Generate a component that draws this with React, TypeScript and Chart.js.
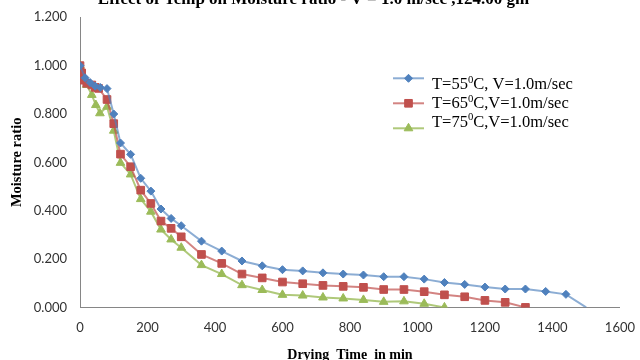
import React, { useEffect, useRef } from 'react';
import { Chart, registerables } from 'chart.js';
import { drawPoint } from 'chart.js/helpers';

Chart.register(...registerables);

// ---------- data ----------
const chartTitle = 'Effect of Temp on Moisture ratio - V = 1.0 m/sec ,124.00 gm';
const xAxisTitle = 'Drying  Time  in min';
const yAxisTitle = 'Moisture ratio';
const seriesLabels = ['T=55⁰C, V=1.0m/sec', 'T=65⁰C,V=1.0m/sec', 'T=75⁰C,V=1.0m/sec'];

const times55 = [0, 15, 30, 45, 60, 80, 100, 120, 150, 180, 210, 240, 270, 300, 360, 420, 480, 540, 600, 660, 720, 780, 840, 900, 960, 1020, 1080, 1140, 1200, 1260, 1320, 1380, 1440, 1500];
const mr55 = [1.0, 0.95, 0.93, 0.915, 0.91, 0.905, 0.80, 0.68, 0.633, 0.534, 0.481, 0.407, 0.368, 0.338, 0.274, 0.233, 0.192, 0.172, 0.156, 0.151, 0.143, 0.138, 0.134, 0.127, 0.127, 0.117, 0.103, 0.095, 0.084, 0.076, 0.076, 0.066, 0.054, 0];

const times65 = [0, 5, 10, 20, 35, 45, 55, 80, 100, 120, 150, 180, 210, 240, 270, 300, 360, 420, 480, 540, 600, 660, 720, 780, 840, 900, 960, 1020, 1080, 1140, 1200, 1260, 1320];
const mr65 = [1.0, 0.97, 0.94, 0.927, 0.92, 0.91, 0.906, 0.86, 0.76, 0.634, 0.582, 0.485, 0.43, 0.357, 0.327, 0.292, 0.219, 0.182, 0.138, 0.122, 0.105, 0.098, 0.091, 0.087, 0.083, 0.074, 0.074, 0.065, 0.052, 0.044, 0.029, 0.021, 0];

const times75 = [0, 5, 10, 20, 35, 47, 59, 80, 100, 120, 150, 180, 210, 240, 270, 300, 360, 420, 480, 540, 600, 660, 720, 780, 840, 900, 960, 1020, 1080];
const mr75 = [1.0, 0.97, 0.945, 0.92, 0.879, 0.837, 0.803, 0.83, 0.731, 0.598, 0.55, 0.448, 0.396, 0.322, 0.281, 0.247, 0.175, 0.138, 0.092, 0.072, 0.052, 0.049, 0.041, 0.037, 0.031, 0.023, 0.025, 0.015, 0];

const xTicks = { min: 0, max: 1600, step: 200 };
const yTicks = { min: 0, max: 1.2, step: 0.2 };

// ---------- styles ----------
const SHIFT = 12;
const colors = ['#4F81BD', '#C0504D', '#9BBB59'];
const lineColors = ['rgba(79,129,189,0.65)', 'rgba(192,80,77,0.7)', 'rgba(155,187,89,0.8)'];
const pointStyles = ['rectRot', 'rect', 'triangle'];
const pointRadii = [4, 5.4, 5];

const pair = (xs: number[], ys: number[]) => xs.map((x, i) => ({ x, y: ys[i] }));

const legendPlugin = {
  id: 'insideLegend',
  afterDraw(chart: any) {
    const ctx = chart.ctx as CanvasRenderingContext2D;
    const lineRows = [78.3, 103.3, 128.3];
    const textRows = [85, 103.8, 122.3];
    const x1 = 393, x2 = 424, tx = 432;
    const size = 16.5;
    ctx.save();
    chart.data.datasets.forEach((ds: any, i: number) => {
      const ly = lineRows[i] + SHIFT;
      ctx.strokeStyle = ds.borderColor;
      ctx.lineWidth = 2;
      ctx.beginPath();
      ctx.moveTo(x1, ly);
      ctx.lineTo(x2, ly);
      ctx.stroke();
      ctx.fillStyle = ds.pointBackgroundColor;
      ctx.strokeStyle = ds.pointBorderColor;
      ctx.lineWidth = 1;
      drawPoint(ctx, { pointStyle: ds.pointStyle, radius: pointRadii[i], rotation: 0, borderWidth: 1 } as any, (x1 + x2) / 2, ly);
      // label with superscript zero
      const y = textRows[i] + SHIFT;
      const parts = String(ds.label).split('⁰');
      ctx.fillStyle = '#000';
      ctx.textBaseline = 'middle';
      ctx.textAlign = 'left';
      let cx = tx;
      parts.forEach((p: string, k: number) => {
        if (k > 0) {
          ctx.font = `${size * 0.65}px "Liberation Serif"`;
          ctx.fillText('0', cx, y - size * 0.3);
          cx += ctx.measureText('0').width;
        }
        ctx.font = `${size}px "Liberation Serif"`;
        ctx.fillText(p, cx, y);
        cx += ctx.measureText(p).width;
      });
    });
    ctx.restore();
  },
};

export default function App() {
  const ref = useRef<HTMLCanvasElement>(null);
  useEffect(() => {
    const series = [pair(times55, mr55), pair(times65, mr65), pair(times75, mr75)];
    const chart = new Chart(ref.current as HTMLCanvasElement, {
      type: 'line',
      data: {
        datasets: series.map((d, i) => ({
          label: seriesLabels[i],
          data: d,
          borderColor: lineColors[i],
          borderWidth: 2,
          pointStyle: pointStyles[i] as any,
          pointRadius: (c: any) => (i === 0 && c.dataIndex === d.length - 1 ? 0 : pointRadii[i]),
          pointHoverRadius: pointRadii[i],
          pointBackgroundColor: colors[i],
          pointBorderColor: colors[i],
          pointBorderWidth: 1,
          tension: 0,
          fill: false,
        })),
      },
      options: {
        animation: false,
        responsive: true,
        maintainAspectRatio: false,
        layout: { padding: { left: 0, right: 13, top: 0, bottom: 4.6 } },
        plugins: {
          legend: { display: false },
          tooltip: { enabled: false },
          title: {
            display: true,
            text: chartTitle,
            color: '#000',
            font: { family: '"Liberation Serif"', size: 17, weight: 'bold' },
            padding: { top: 1.1, bottom: 7.8 },
          },
        },
        scales: {
          x: {
            type: 'linear',
            min: xTicks.min,
            max: xTicks.max,
            grid: { display: false },
            border: { display: true, color: '#868686', width: 1 },
            ticks: {
              stepSize: xTicks.step,
              color: '#333',
              font: { family: 'Lato', size: 13 },
              padding: 5,
              maxRotation: 0,
              callback: (v: any) => String(v),
            },
            title: {
              display: true,
              text: xAxisTitle,
              color: '#000',
              font: { family: '"Liberation Serif"', size: 14, weight: 'bold' },
              padding: { top: 4, bottom: 4 },
            },
            afterFit: (s: any) => { s.height = 60; },
          },
          y: {
            min: yTicks.min,
            max: yTicks.max,
            grid: { display: false },
            border: { display: true, color: '#868686', width: 1 },
            ticks: {
              stepSize: yTicks.step,
              color: '#333',
              font: { family: 'Lato', size: 13 },
              padding: 5,
              callback: (v: any) => Number(v).toFixed(3),
            },
            title: {
              display: true,
              text: yAxisTitle,
              color: '#000',
              font: { family: '"Liberation Serif"', size: 14.5, weight: 'bold' },
              padding: { top: 8.3, bottom: 4 },
            },
            afterFit: (s: any) => { s.width = 80; },
          },
        },
      },
      plugins: [legendPlugin],
    });
    return () => chart.destroy();
  }, []);
  return (
    <div style={{ position: 'fixed', left: 0, top: 0, width: 640, height: 360, overflow: 'hidden', background: '#fff' }}>
      <div style={{ position: 'absolute', left: 0, top: -SHIFT, width: 640, height: 360 + 2 * SHIFT }}>
        <canvas ref={ref} />
      </div>
    </div>
  );
}
